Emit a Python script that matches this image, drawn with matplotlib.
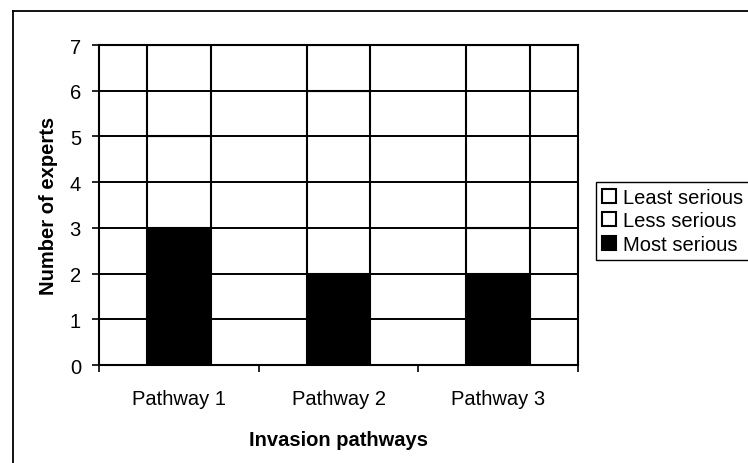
import numpy as np
import matplotlib
matplotlib.use('Agg')
import matplotlib.pyplot as plt
from matplotlib.lines import Line2D

plt.rcParams['font.family'] = ['Liberation Sans', 'DejaVu Sans']

pathways = ['Pathway 1', 'Pathway 2', 'Pathway 3']
most_serious = [3, 2, 2]
less_serious = [2, 4, 1]
least_serious = [2, 1, 4]

fig = plt.figure(figsize=(7.48, 4.64), dpi=100)
ax = fig.add_axes([99 / 748, 1 - 366 / 464, 479 / 748, 320 / 464])

x = np.arange(len(pathways))
w = 0.4
b1 = ax.bar(x, most_serious, w, color='black', edgecolor='black', lw=1.5, label='Most serious')
b2 = ax.bar(x, less_serious, w, bottom=most_serious, color='white', edgecolor='black', lw=1.5,
            label='Less serious')
bottom3 = np.array(most_serious) + np.array(less_serious)
b3 = ax.bar(x, least_serious, w, bottom=bottom3, color='white', edgecolor='black', lw=1.5,
            label='Least serious')

ax.set_xlim(-0.5, 2.5)
ax.set_ylim(0, 7)
ax.set_yticks(range(0, 8))
ax.set_axisbelow(False)
ax.yaxis.grid(True, color='black', lw=1.4)

# ticks at category boundaries, labels in the middle
ax.set_xticks([-0.5, 0.5, 1.5, 2.5])
ax.set_xticklabels([])
ax.set_xticks(x, minor=True)
ax.set_xticklabels(pathways, minor=True, fontsize=14.5)
ax.tick_params(axis='x', which='minor', length=0, pad=17)
ax.tick_params(axis='x', which='major', length=5, width=1.2, direction='out')
ax.tick_params(axis='y', length=5, width=1.2, labelsize=14.5, pad=8)

for s in ax.spines.values():
    s.set_linewidth(1.5)
    s.set_color('black')

ax.set_xlabel('Invasion pathways', fontsize=14.5, fontweight='bold', labelpad=16)
ax.set_ylabel('Number of experts', fontsize=14.5, fontweight='bold', labelpad=8.5)

fig.legend([b3, b2, b1], ['Least serious', 'Less serious', 'Most serious'],
           loc='upper left', bbox_to_anchor=(596 / 748, 1 - 183 / 464),
           fontsize=14.5, frameon=True, fancybox=False, edgecolor='black',
           framealpha=1, borderaxespad=0, handlelength=0.7, handleheight=0.7,
           handletextpad=0.35, labelspacing=0.22, borderpad=0.3)

# outer chart frame
fig.add_artist(Line2D([13 / 748, 13 / 748], [0, 1 - 12 / 464], transform=fig.transFigure,
                      color='black', lw=1.3))
fig.add_artist(Line2D([13 / 748, 1], [1 - 12 / 464, 1 - 12 / 464], transform=fig.transFigure,
                      color='black', lw=1.3))

fig.savefig('out.png', dpi=100)
